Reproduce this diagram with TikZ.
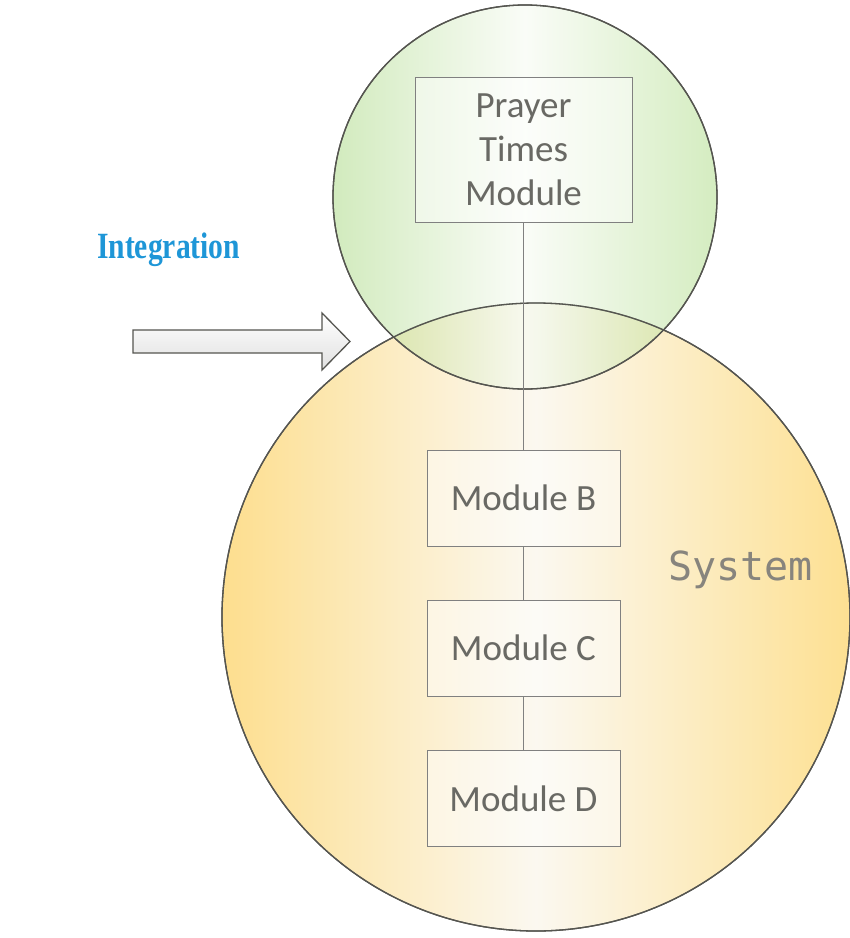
\documentclass[tikz,border=0pt]{standalone}
\usepackage{fontspec}
\newfontfamily\carl{Carlito}
\newfontfamily\libserif{Liberation Serif}
\newfontfamily\dmono{DejaVu Sans Mono}
\definecolor{bordergray}{RGB}{85,85,80}
\definecolor{boxgray}{RGB}{128,128,128}
\definecolor{txtgray}{RGB}{105,105,100}
\definecolor{sysgray}{RGB}{135,132,125}
\definecolor{orangeL}{RGB}{253,222,142}
\definecolor{orangeM}{RGB}{251,248,240}
\definecolor{orangeR}{RGB}{253,224,146}
\definecolor{greenL}{RGB}{165,215,125}
\definecolor{greenM}{RGB}{245,250,240}
\definecolor{greenR}{RGB}{170,218,130}
\definecolor{intblue}{RGB}{30,150,215}
\begin{document}
\begin{tikzpicture}[x=1pt,y=-1pt,
  modbox/.style={draw=boxgray, line width=1pt, fill=white, fill opacity=0.45, text opacity=1,
    minimum width=193pt, minimum height=96pt, inner sep=0pt, text=txtgray,
    font=\carl\fontsize{37}{44}\selectfont, align=center},
  conn/.style={draw=boxgray, line width=1pt},
  bigcircle/.style={circle, draw=bordergray, line width=1.3pt, inner sep=0pt}]
\useasboundingbox (0,0) rectangle (850,938);
% system circle
\node[bigcircle, minimum size=628pt, left color=orangeL, right color=orangeR, middle color=orangeM]
  (sys) at (536,617) {};
% integration circle
\node[bigcircle, minimum size=384pt, left color=greenL, right color=greenR, middle color=greenM,
  fill opacity=0.5, draw opacity=1] (integ) at (525,197) {};
% redraw outlines
\draw[bordergray, line width=1.3pt] (sys.center) circle[radius=314pt];
\draw[bordergray, line width=1.3pt] (integ.center) circle[radius=192pt];
% boxes
\node[modbox, minimum width=217pt, minimum height=145pt] (pt) at (523.5,149.5) {Prayer\\Times\\Module};
\node[modbox] (mb) at (523.5,498) {Module B};
\node[modbox] (mc) at (523.5,648) {Module C};
\node[modbox] (md) at (523.5,798.5) {Module D};
\draw[conn] (pt.south) -- (mb.north);
\draw[conn] (mb.south) -- (mc.north);
\draw[conn] (mc.south) -- (md.north);
% system label
\node[anchor=base west, inner sep=0pt, text=sysgray, font=\dmono\fontsize{40}{46}\selectfont] (syslabel) at (668,580) {System};
% integration label
\node[anchor=base west, inner sep=0pt, text=intblue, xscale=0.8, transform shape,
  font=\libserif\bfseries\fontsize{37}{42}\selectfont] (intlabel) at (97,258) {Integration};
% arrow
\draw[draw=bordergray, line width=1.3pt, top color=white, bottom color=black!12, line join=miter]
  (133,330) -- (322,330) -- (322,313) -- (350,341.5) -- (322,370) -- (322,353) -- (133,353) -- cycle;
\end{tikzpicture}
\end{document}
